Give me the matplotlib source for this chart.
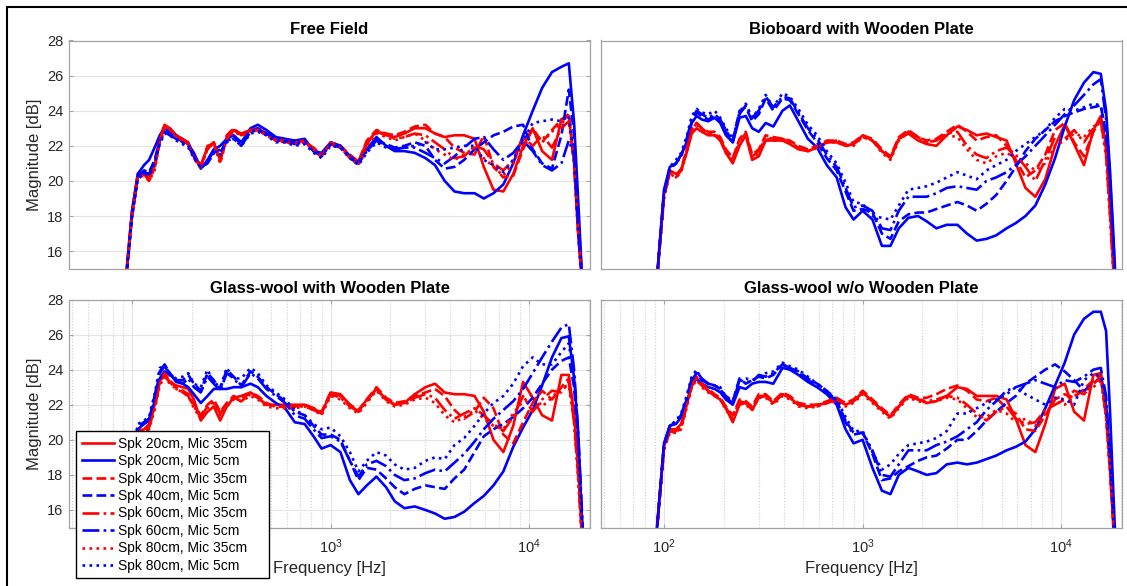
import numpy as np
import matplotlib.pyplot as plt
from matplotlib.patches import Rectangle
from matplotlib.ticker import LogLocator, NullFormatter, MultipleLocator, FixedFormatter

plt.rcParams['font.family'] = ['Liberation Sans', 'DejaVu Sans']
plt.rcParams['mathtext.fontset'] = 'custom'
plt.rcParams['mathtext.rm'] = 'Liberation Sans'
plt.rcParams['mathtext.it'] = 'Liberation Sans:italic'
plt.rcParams['mathtext.bf'] = 'Liberation Sans:bold'

# frequency grid shared by every curve (Hz)
freq = [90, 100, 107, 115, 122, 130, 138, 146, 155, 167, 180, 192, 205, 222, 240, 258, 278, 300,
        325, 355, 395, 430, 475, 530, 590, 660, 740, 820, 900, 1000, 1120, 1250, 1380, 1520,
        1700, 1900, 2100, 2350, 2650, 3000, 3350, 3750, 4200, 4700, 5300, 5900, 6600, 7400,
        8300, 9300, 10400, 11600, 13000, 14500, 15800, 16800, 17600, 18300, 19000]

# ---- Free Field
ff_r20 = [12.6, 18.2, 20.4, 20.5, 20.2, 20.9, 22.5, 23.2, 23.0, 22.6, 22.4, 22.2, 21.4, 20.9, 21.9, 22.2, 21.2, 22.5, 22.9, 22.7,
          22.9, 23.0, 22.7, 22.4, 22.3, 22.2, 22.3, 21.8, 21.5, 22.2,
          22.0, 21.4, 21.1, 22.2, 22.8, 22.6, 22.5, 22.7, 23.0, 23.0, 22.7, 22.5, 22.6, 22.6, 22.4, 20.8, 19.5, 19.4, 20.4, 22.0,
          23.0, 21.7, 21.2, 23.5, 23.7, 21.0, 17.0, 14.5, 12.0]
ff_b20 = [12.6, 18.3, 20.4, 20.9, 21.2, 21.9, 22.6, 23.0, 22.8, 22.6, 22.3, 22.1, 21.6, 20.7, 21.2, 21.8, 22.0, 22.4, 22.6, 22.2,
          23.0, 23.2, 22.9, 22.5, 22.4, 22.3, 22.4, 21.7, 21.6, 22.2,
          22.0, 21.4, 21.0, 21.8, 22.5, 22.0, 21.7, 21.7, 21.6, 21.3, 20.9, 20.0, 19.4, 19.3, 19.3, 19.0, 19.3, 19.8, 21.0, 22.6,
          24.0, 25.3, 26.2, 26.5, 26.7, 23.3, 19.0, 15.2, 12.0]
ff_r40 = [12.5, 18.1, 20.3, 20.4, 20.1, 20.8, 22.4, 23.1, 23.0, 22.6, 22.3, 22.1, 21.3, 20.8, 22.0, 22.1, 21.1, 22.6, 23.0, 22.6,
          22.9, 23.0, 22.6, 22.3, 22.2, 22.2, 22.3, 21.8, 21.4, 22.2,
          22.0, 21.5, 21.1, 22.3, 22.9, 22.7, 22.6, 22.8, 23.1, 23.2, 22.7, 22.5, 21.9, 21.6, 21.5, 22.6, 20.8, 20.2, 20.3, 21.8,
          23.0, 22.2, 22.9, 23.5, 23.8, 21.2, 17.5, 14.8, 12.0]
ff_b40 = [12.4, 18.0, 20.2, 20.6, 20.5, 21.2, 22.3, 22.8, 22.7, 22.5, 22.2, 22.0, 21.5, 20.8, 21.0, 21.6, 21.8, 22.3, 22.5, 22.1,
          22.8, 23.0, 22.7, 22.4, 22.3, 22.2, 22.3, 21.7, 21.5, 22.1,
          22.0, 21.4, 21.1, 21.8, 22.3, 22.1, 21.9, 22.0, 22.2, 22.0, 21.2, 20.7, 20.8, 21.2, 21.8, 22.2, 22.6, 22.8, 23.1, 23.2,
          21.8, 21.0, 20.7, 22.6, 25.2, 22.6, 18.0, 15.0, 12.0]
ff_r60 = [12.5, 18.1, 20.3, 20.4, 20.0, 20.7, 22.3, 23.1, 22.9, 22.6, 22.3, 22.1, 21.4, 20.8, 21.8, 22.2, 21.2, 22.4, 22.9, 22.6,
          22.8, 22.9, 22.6, 22.3, 22.3, 22.2, 22.2, 21.9, 21.5, 22.1,
          21.9, 21.3, 21.0, 22.1, 22.8, 22.7, 22.4, 22.5, 22.7, 22.6, 22.2, 21.8, 21.3, 21.4, 22.0, 21.8, 21.0, 20.6, 21.2, 22.5,
          22.0, 22.6, 21.9, 23.0, 23.4, 21.0, 17.2, 14.6, 12.0]
ff_b60 = [12.4, 18.0, 20.2, 20.5, 20.4, 21.0, 22.2, 22.8, 22.6, 22.4, 22.2, 22.0, 21.4, 20.7, 21.1, 21.7, 21.6, 22.3, 22.4, 22.0,
          22.8, 22.9, 22.7, 22.3, 22.3, 22.1, 22.2, 21.7, 21.4, 22.1,
          21.9, 21.3, 21.0, 21.7, 22.3, 22.0, 21.8, 21.9, 21.9, 21.6, 21.3, 21.0, 21.4, 21.9, 22.4, 22.5, 21.8, 21.2, 21.6, 22.3,
          21.7, 20.9, 20.6, 21.0, 22.3, 21.5, 17.5, 14.8, 12.0]
ff_r80 = [12.5, 18.0, 20.2, 20.3, 20.0, 20.6, 22.2, 23.0, 22.9, 22.5, 22.3, 22.1, 21.3, 20.7, 21.9, 22.1, 21.0, 22.4, 22.8, 22.6,
          22.8, 22.9, 22.6, 22.3, 22.2, 22.1, 22.2, 21.8, 21.4, 22.1,
          21.9, 21.3, 20.9, 22.0, 22.7, 22.5, 22.3, 22.5, 22.7, 22.3, 21.8, 21.5, 21.2, 21.5, 21.9, 21.3, 20.8, 20.3, 21.0, 22.3,
          22.9, 22.2, 22.8, 23.3, 23.6, 21.0, 17.0, 14.5, 12.0]
ff_b80 = [12.3, 17.9, 20.1, 20.4, 20.3, 21.0, 22.1, 22.7, 22.6, 22.3, 22.1, 21.9, 21.3, 20.8, 21.0, 21.6, 21.5, 22.2, 22.4, 22.0,
          22.7, 22.8, 22.6, 22.2, 22.2, 22.0, 22.1, 21.6, 21.3, 22.0,
          21.9, 21.3, 20.9, 21.6, 22.2, 21.9, 21.8, 21.9, 22.0, 22.2, 21.8, 21.8, 21.9, 22.0, 22.0, 21.2, 20.9, 20.5, 21.2, 22.3,
          23.3, 23.4, 23.5, 23.4, 23.7, 21.3, 17.2, 14.7, 12.0]

# ---- Bioboard with Wooden Plate
bb_r20 = [13.0, 19.2, 20.6, 20.4, 20.6, 21.6, 22.7, 23.0, 22.8, 22.6, 22.6, 22.3, 21.6, 21.0, 22.0, 22.6, 21.2, 21.4, 22.3, 22.3,
          22.3, 22.1, 21.8, 21.7, 21.9, 22.2, 22.2, 22.0, 22.1, 22.6,
          22.3, 21.7, 21.3, 22.4, 22.7, 22.3, 22.1, 22.0, 22.6, 23.1, 22.9, 22.6, 22.7, 22.5, 22.3, 21.0, 19.6, 19.1, 20.1, 22.0,
          23.2, 22.1, 20.9, 22.9, 23.7, 22.0, 18.5, 15.0, 12.5]
bb_b20 = [13.0, 19.5, 20.8, 21.0, 21.5, 22.2, 23.3, 23.7, 23.5, 23.4, 23.6, 23.3, 22.6, 22.2, 23.6, 23.7, 23.0, 22.8, 23.3, 23.1,
          24.0, 24.3, 23.4, 22.4, 21.9, 20.9, 20.2, 18.5, 17.8, 18.3,
          17.8, 16.3, 16.3, 17.3, 17.9, 18.0, 17.7, 17.3, 17.5, 17.5, 17.0, 16.6, 16.7, 16.9, 17.3, 17.6, 18.0, 18.6, 19.8, 21.3,
          23.1, 24.6, 25.6, 26.2, 26.1, 24.0, 20.5, 16.8, 13.0]
bb_r40 = [13.0, 19.1, 20.5, 20.3, 20.7, 21.8, 23.0, 23.3, 23.0, 22.8, 22.8, 22.5, 21.8, 21.3, 22.4, 22.8, 21.5, 21.8, 22.6, 22.5,
          22.4, 22.3, 22.0, 21.8, 22.0, 22.3, 22.3, 22.1, 22.2, 22.6,
          22.4, 21.8, 21.4, 22.5, 22.9, 22.5, 22.3, 22.4, 22.8, 23.2, 22.8, 22.3, 22.5, 22.6, 22.0, 21.2, 20.2, 20.6, 21.5, 22.9,
          23.3, 22.2, 21.4, 22.8, 23.5, 21.8, 18.3, 15.0, 12.5]
bb_b40 = [13.0, 19.3, 20.7, 21.0, 21.4, 22.3, 23.4, 23.9, 23.7, 23.5, 23.7, 23.4, 22.8, 22.3, 24.0, 24.2, 23.4, 23.8, 24.7, 24.0,
          24.7, 24.6, 23.8, 22.9, 22.2, 21.3, 20.6, 19.4, 18.3, 18.4,
          18.2, 17.0, 16.7, 17.7, 18.1, 18.2, 18.2, 18.4, 18.6, 18.8, 18.6, 18.3, 18.7, 19.2, 20.0, 20.8, 21.7, 22.4, 22.9, 23.4,
          23.7, 23.9, 24.1, 24.2, 24.3, 22.5, 19.5, 16.0, 12.5]
bb_r60 = [13.0, 19.1, 20.5, 20.2, 20.6, 21.7, 22.9, 23.3, 23.0, 22.7, 22.7, 22.4, 21.7, 21.2, 22.3, 22.7, 21.4, 21.7, 22.5, 22.4,
          22.4, 22.2, 21.9, 21.7, 21.9, 22.2, 22.3, 22.0, 22.1, 22.5,
          22.3, 21.7, 21.3, 22.4, 22.8, 22.5, 22.2, 22.3, 22.7, 22.8, 22.0, 21.5, 21.3, 21.7, 21.9, 21.5, 20.8, 20.0, 21.2, 22.5,
          22.4, 22.9, 22.2, 23.0, 23.4, 21.5, 18.0, 14.8, 12.5]
bb_b60 = [13.0, 19.3, 20.7, 21.0, 21.5, 22.4, 23.5, 24.0, 23.8, 23.6, 23.8, 23.5, 22.9, 22.2, 23.8, 24.3, 23.6, 24.0, 24.8, 24.2,
          24.8, 24.7, 23.9, 23.0, 22.4, 21.5, 20.8, 19.6, 18.5, 18.6,
          18.3, 17.3, 17.2, 18.3, 19.1, 19.1, 19.1, 19.3, 19.6, 19.7, 19.6, 19.5, 20.0, 20.2, 20.5, 20.9, 21.4, 22.0, 22.6, 23.2,
          23.8, 24.3, 24.9, 25.5, 25.8, 23.5, 20.0, 16.5, 12.5]
bb_r80 = [13.0, 19.0, 20.4, 20.2, 20.5, 21.6, 22.9, 23.2, 22.9, 22.7, 22.6, 22.3, 21.6, 21.1, 22.2, 22.6, 21.3, 21.6, 22.4, 22.3,
          22.3, 22.2, 21.9, 21.7, 21.9, 22.2, 22.2, 22.0, 22.0, 22.5,
          22.3, 21.6, 21.2, 22.3, 22.8, 22.4, 22.2, 22.3, 22.6, 22.5, 21.8, 21.2, 21.0, 21.4, 21.6, 21.3, 21.0, 20.6, 21.0, 22.0,
          22.3, 22.7, 22.5, 23.1, 23.3, 21.4, 17.8, 14.7, 12.5]
bb_b80 = [13.0, 19.2, 20.8, 21.2, 21.6, 22.5, 23.7, 24.1, 23.9, 23.8, 24.0, 23.6, 23.0, 22.4, 23.9, 24.4, 23.6, 24.1, 24.9, 24.2,
          25.0, 24.8, 24.1, 23.2, 22.6, 21.7, 21.0, 19.9, 18.8, 18.7,
          18.0, 17.9, 17.8, 18.6, 19.5, 19.6, 19.7, 19.9, 20.2, 20.5, 20.3, 20.1, 20.6, 20.9, 21.2, 21.7, 22.1, 22.5, 22.9, 23.6,
          24.1, 24.0, 24.2, 24.4, 24.3, 22.8, 19.8, 16.3, 12.5]

# ---- Glass-wool with Wooden Plate
gw_r20 = [13.0, 19.0, 20.5, 20.6, 20.9, 22.0, 23.4, 23.6, 23.3, 23.1, 23.0, 22.9, 22.3, 21.1, 21.6, 21.9, 21.1, 21.9, 22.4, 22.5,
          22.7, 22.4, 22.0, 22.0, 22.0, 22.0, 22.0, 21.8, 21.5, 22.7,
          22.6, 22.0, 21.6, 22.3, 22.9, 22.3, 22.0, 22.1, 22.6, 23.0, 23.2, 22.7, 22.6, 22.6, 22.5, 21.6, 20.0, 19.3, 20.8, 23.3,
          22.4, 21.4, 21.1, 23.7, 23.7, 21.5, 18.5, 15.0, 12.5]
gw_b20 = [13.0, 19.0, 20.6, 20.9, 21.1, 22.2, 23.5, 23.9, 23.7, 23.4, 23.2, 23.0, 22.6, 22.1, 22.5, 22.9, 22.9, 22.9, 23.0, 23.0,
          23.2, 23.0, 22.5, 22.1, 21.8, 21.0, 20.9, 20.2, 19.5, 19.7,
          19.3, 17.7, 16.9, 17.4, 17.9, 17.3, 16.5, 16.1, 16.2, 16.0, 15.8, 15.5, 15.6, 15.9, 16.4, 16.8, 17.4, 18.2, 19.6, 20.7,
          21.7, 23.1, 24.7, 25.8, 25.9, 23.5, 20.5, 16.0, 12.5]
gw_r40 = [13.0, 18.9, 20.4, 20.5, 20.8, 21.9, 23.3, 23.8, 23.4, 23.0, 22.8, 22.6, 22.0, 21.4, 22.0, 22.3, 21.6, 22.1, 22.5, 22.3,
          22.7, 22.5, 22.1, 21.9, 21.9, 21.9, 22.0, 21.8, 21.6, 22.7,
          22.5, 22.0, 21.7, 22.3, 23.0, 22.4, 22.1, 22.2, 22.5, 22.7, 22.9, 22.5, 21.7, 21.2, 21.6, 22.4, 21.8, 20.3, 19.8, 21.0,
          22.1, 22.8, 22.3, 23.0, 23.5, 21.2, 18.2, 15.0, 12.5]
gw_b40 = [13.0, 19.0, 20.7, 21.0, 21.2, 22.4, 23.8, 24.2, 23.8, 23.4, 23.4, 23.7, 23.2, 22.8, 23.8, 23.4, 22.9, 24.0, 23.6, 23.1,
          23.9, 23.6, 23.0, 22.6, 22.2, 21.6, 21.4, 20.8, 20.3, 20.3,
          20.0, 18.8, 17.7, 18.4, 18.3, 17.8, 17.3, 16.9, 17.2, 17.4, 17.3, 17.2, 17.8, 18.3, 19.3, 20.2, 20.6, 20.9, 21.3, 21.8,
          22.4, 23.2, 24.0, 24.5, 24.7, 23.0, 20.0, 16.0, 12.5]
gw_r60 = [13.0, 18.9, 20.4, 20.4, 20.7, 21.8, 23.2, 23.7, 23.3, 22.9, 22.7, 22.5, 21.9, 21.3, 21.9, 22.2, 21.5, 22.0, 22.4, 22.2,
          22.6, 22.4, 22.0, 21.9, 21.9, 21.9, 21.9, 21.7, 21.5, 22.6,
          22.4, 21.9, 21.6, 22.2, 22.9, 22.3, 22.0, 22.1, 22.4, 22.6, 22.4, 21.7, 21.2, 21.5, 21.8, 21.4, 20.9, 20.5, 21.3, 22.5,
          21.6, 22.3, 22.8, 22.7, 23.3, 21.0, 18.0, 14.8, 12.5]
gw_b60 = [13.0, 19.0, 20.8, 21.0, 21.2, 22.5, 23.9, 24.3, 23.8, 23.3, 23.2, 23.5, 23.0, 22.7, 23.6, 23.2, 22.8, 23.8, 23.5, 23.0,
          23.8, 23.5, 22.9, 22.5, 22.1, 21.4, 21.2, 20.6, 20.1, 20.2,
          19.9, 18.8, 17.9, 18.6, 18.8, 18.5, 18.0, 17.7, 17.8, 18.1, 18.3, 18.2, 18.7, 19.2, 19.9, 20.6, 21.2, 21.7, 22.2, 22.9,
          23.8, 24.7, 25.6, 26.4, 26.6, 24.0, 20.5, 16.5, 12.5]
gw_r80 = [13.0, 18.8, 20.3, 20.4, 20.6, 21.7, 23.1, 23.6, 23.2, 22.9, 22.7, 22.5, 21.8, 21.2, 21.8, 22.1, 21.4, 21.9, 22.3, 22.2,
          22.5, 22.3, 21.9, 21.8, 21.8, 21.8, 21.9, 21.7, 21.4, 22.5,
          22.3, 21.8, 21.5, 22.1, 22.8, 22.2, 21.9, 22.0, 22.3, 22.4, 22.1, 21.4, 21.0, 21.3, 21.7, 21.2, 20.8, 20.6, 21.5, 22.2,
          22.6, 21.9, 22.4, 23.0, 23.1, 21.0, 17.8, 14.8, 12.5]
gw_b80 = [13.0, 19.0, 20.9, 21.1, 21.3, 22.6, 24.1, 24.2, 23.7, 23.5, 23.6, 23.8, 23.2, 23.0, 24.0, 23.3, 23.0, 24.1, 23.5, 23.5,
          24.1, 23.8, 23.1, 22.7, 22.3, 21.7, 21.4, 20.9, 20.6, 20.7,
          20.2, 19.3, 18.2, 18.8, 19.3, 19.1, 18.6, 18.3, 18.4, 18.8, 19.0, 18.9, 19.7, 20.1, 20.8, 21.5, 22.1, 22.5, 23.2, 24.2,
          24.7, 24.3, 24.3, 25.0, 25.5, 23.5, 20.0, 16.0, 12.5]

# ---- Glass-wool w/o Wooden Plate
gn_r20 = [13.5, 19.6, 20.6, 20.6, 20.9, 22.0, 23.1, 23.5, 23.1, 22.8, 22.5, 22.3, 21.8, 21.0, 22.0, 22.1, 21.7, 22.4, 22.5, 22.1,
          22.6, 22.4, 22.0, 21.9, 22.0, 22.1, 22.3, 22.0, 22.2, 22.7,
          22.2, 21.7, 21.3, 21.9, 22.5, 22.3, 22.1, 22.2, 22.5, 23.0, 22.9, 22.5, 22.5, 22.5, 22.3, 21.2, 19.7, 19.3, 20.9, 22.9,
          23.2, 21.6, 21.1, 23.7, 23.8, 21.8, 18.5, 15.2, 12.5]
gn_b20 = [13.6, 19.8, 20.8, 20.9, 21.3, 22.1, 23.1, 23.5, 23.2, 23.0, 22.9, 22.7, 22.3, 22.0, 23.0, 22.9, 23.2, 23.3, 23.3, 23.2,
          24.1, 24.0, 23.7, 23.3, 23.0, 22.6, 22.0, 20.6, 19.8, 20.0,
          18.4, 17.1, 16.9, 18.0, 18.4, 18.2, 18.0, 18.1, 18.6, 18.7, 18.6, 18.7, 18.9, 19.1, 19.4, 19.6, 19.9, 20.6, 21.8, 23.1,
          24.4, 26.0, 26.9, 27.3, 27.3, 26.2, 21.5, 16.8, 12.5]
gn_r40 = [13.5, 19.5, 20.5, 20.5, 20.8, 22.0, 23.2, 23.6, 23.2, 22.9, 22.6, 22.4, 21.9, 21.4, 22.3, 22.2, 21.9, 22.6, 22.6, 22.2,
          22.7, 22.5, 22.1, 22.0, 22.0, 22.2, 22.4, 22.1, 22.3, 22.8,
          22.3, 21.8, 21.4, 22.0, 22.6, 22.4, 22.4, 22.6, 22.9, 23.1, 22.8, 22.3, 22.2, 22.4, 21.8, 21.5, 20.6, 20.5, 21.4, 22.3,
          22.6, 22.4, 22.9, 23.4, 23.8, 21.5, 18.3, 15.0, 12.5]
gn_b40 = [13.5, 19.7, 20.8, 21.0, 21.4, 22.3, 23.4, 23.8, 23.4, 23.2, 23.1, 22.9, 22.5, 22.2, 23.5, 23.2, 23.4, 23.6, 23.5, 23.7,
          24.3, 24.1, 23.9, 23.5, 23.2, 22.8, 22.2, 21.1, 20.4, 20.4,
          19.2, 17.7, 17.8, 18.2, 18.5, 18.8, 19.0, 19.1, 19.5, 20.0, 20.0, 20.5, 21.1, 21.6, 22.1, 22.5, 23.2, 23.6, 24.0, 24.3,
          23.9, 23.4, 22.8, 23.2, 23.6, 22.0, 19.0, 15.5, 12.5]
gn_r60 = [13.5, 19.5, 20.5, 20.4, 20.7, 21.9, 23.1, 23.5, 23.1, 22.8, 22.5, 22.3, 21.8, 21.3, 22.2, 22.1, 21.8, 22.5, 22.5, 22.1,
          22.6, 22.4, 22.0, 21.9, 21.9, 22.1, 22.3, 22.0, 22.2, 22.7,
          22.2, 21.7, 21.3, 21.9, 22.5, 22.3, 22.2, 22.3, 22.5, 22.4, 22.0, 21.5, 21.1, 21.6, 21.9, 21.2, 20.9, 21.0, 21.7, 22.0,
          22.3, 22.8, 22.6, 23.2, 23.6, 21.3, 18.2, 15.0, 12.5]
gn_b60 = [13.5, 19.7, 20.8, 21.0, 21.4, 22.4, 23.5, 23.9, 23.5, 23.2, 23.1, 22.9, 22.4, 22.1, 23.4, 23.3, 23.3, 23.7, 23.6, 23.8,
          24.3, 24.1, 23.8, 23.4, 23.1, 22.7, 22.2, 21.0, 20.3, 20.4,
          19.4, 18.0, 17.9, 18.6, 19.4, 19.4, 19.4, 19.7, 19.9, 20.2, 20.6, 21.0, 21.7, 22.2, 22.8, 23.0, 23.2, 23.4, 23.2, 23.0,
          23.4, 23.3, 23.6, 24.0, 24.1, 22.5, 19.0, 15.5, 12.5]
gn_r80 = [13.5, 19.4, 20.4, 20.4, 20.6, 21.8, 23.0, 23.4, 23.0, 22.7, 22.5, 22.3, 21.7, 21.2, 22.1, 22.0, 21.7, 22.4, 22.4, 22.0,
          22.5, 22.3, 21.9, 21.8, 21.9, 22.1, 22.2, 21.9, 22.1, 22.6,
          22.1, 21.6, 21.2, 21.8, 22.4, 22.2, 22.1, 22.2, 22.4, 22.3, 21.8, 21.3, 21.3, 21.7, 21.5, 21.0, 21.2, 20.8, 21.5, 22.2,
          22.0, 22.5, 22.8, 23.0, 23.4, 21.2, 18.0, 14.9, 12.5]
gn_b80 = [13.5, 19.6, 20.8, 21.1, 21.5, 22.5, 23.6, 24.0, 23.4, 23.2, 23.1, 23.0, 22.4, 22.2, 23.4, 23.5, 23.4, 23.6, 23.8, 23.9,
          24.4, 24.2, 24.0, 23.6, 23.2, 22.8, 22.3, 21.3, 20.5, 20.5,
          19.3, 18.3, 18.6, 19.2, 19.7, 19.8, 19.9, 20.1, 20.5, 21.5, 21.5, 21.8, 22.1, 22.3, 22.6, 23.0, 22.6, 22.3, 22.0, 22.4,
          22.3, 22.0, 23.4, 23.8, 23.6, 22.0, 18.8, 15.3, 12.5]

titles = ["Free Field", "Bioboard with Wooden Plate",
          "Glass-wool with Wooden Plate", "Glass-wool w/o Wooden Plate"]
labels = ["Spk 20cm, Mic 35cm", "Spk 20cm, Mic 5cm", "Spk 40cm, Mic 35cm", "Spk 40cm, Mic 5cm",
          "Spk 60cm, Mic 35cm", "Spk 60cm, Mic 5cm", "Spk 80cm, Mic 35cm", "Spk 80cm, Mic 5cm"]
colors = ['red', 'blue'] * 4
lstyles = ['-', '-', '--', '--', '-.', '-.', ':', ':']

panels = [
    [ff_r20, ff_b20, ff_r40, ff_b40, ff_r60, ff_b60, ff_r80, ff_b80],
    [bb_r20, bb_b20, bb_r40, bb_b40, bb_r60, bb_b60, bb_r80, bb_b80],
    [gw_r20, gw_b20, gw_r40, gw_b40, gw_r60, gw_b60, gw_r80, gw_b80],
    [gn_r20, gn_b20, gn_r40, gn_b40, gn_r60, gn_b60, gn_r80, gn_b80],
]

W, H = 1127, 586
fig = plt.figure(figsize=(W / 100, H / 100), dpi=100)

# axes boxes in pixels: left, top, right, bottom
boxes = [(69, 40.5, 590, 268.7), (601, 40.5, 1122, 268.7),
         (69, 299.5, 590, 527.5), (601, 299.5, 1122, 527.5)]

spine_col = '#a3a3a3'
txt_col = '#262626'
axes = []
for i, (l, t, r, b) in enumerate(boxes):
    ax = fig.add_axes([l / W, 1 - b / H, (r - l) / W, (b - t) / H])
    for k, y in enumerate(panels[i]):
        ax.plot(freq, y, color=colors[k], ls=lstyles[k], lw=1.9, label=labels[k])
    ax.set_xscale('log')
    ax.set_xlim(48.2, 20200)
    ax.set_ylim(15, 28)
    ax.yaxis.set_major_locator(MultipleLocator(2))
    ax.xaxis.set_major_locator(LogLocator(base=10))
    ax.xaxis.set_minor_locator(LogLocator(base=10, subs=np.arange(2, 10)))
    ax.xaxis.set_minor_formatter(NullFormatter())
    for s in ax.spines.values():
        s.set_color(spine_col)
        s.set_linewidth(0.9)
    ax.tick_params(which='both', direction='in', colors=spine_col, labelcolor=txt_col,
                   labelsize=10.5, top=True, right=True, length=3, pad=4)
    ax.tick_params(axis='x', pad=7)
    ax.tick_params(which='minor', length=0)
    ax.set_title(titles[i], fontsize=12, fontweight='bold', pad=4.5, color='black')
    if i < 2:
        ax.tick_params(axis='x', which='both', labelbottom=False, length=0)
    else:
        ax.set_xlabel("Frequency [Hz]", fontsize=12, color=txt_col, labelpad=4)
    if i % 2 == 0:
        ax.set_ylabel("Magnitude [dB]", fontsize=12, color=txt_col, labelpad=4)
    else:
        ax.tick_params(axis='y', labelleft=False, length=0)
    axes.append(ax)

# the 10^2 label of the lower-left panel sits under the legend
axes[2].set_xticks([1e2, 1e3, 1e4])
axes[2].xaxis.set_major_formatter(FixedFormatter(['', r'$\mathdefault{10^{3}}$', r'$\mathdefault{10^{4}}$']))

grid_kw = dict(color='#e4e4e4', lw=0.8)
axes[0].grid(True, axis='y', **grid_kw)
axes[2].grid(True, axis='y', **grid_kw)
for ax in axes[2:]:
    ax.grid(True, axis='x', which='major', **grid_kw)
    ax.grid(True, axis='x', which='minor', color='#cfcfcf', lw=0.8, ls=':')
for ax in axes:
    ax.set_axisbelow(True)

leg = axes[2].legend(loc='upper left',
                     bbox_to_anchor=(76 / W, 1 - 577 / H, (269 - 76) / W, (577 - 431) / H),
                     mode='expand', bbox_transform=fig.transFigure, fontsize=10, frameon=True,
                     fancybox=False, framealpha=1, edgecolor='black', borderaxespad=0,
                     borderpad=0.4, handlelength=2.35, handletextpad=0.3, labelspacing=0.25)
leg.get_frame().set_linewidth(1.0)
leg.set_zorder(10)

# outer frame of the figure window
fig.add_artist(Rectangle((7 / W, -0.05), 1.2, (H - 7) / H + 0.05, fill=False,
                         edgecolor='black', lw=1.5, transform=fig.transFigure))

fig.savefig("out.png", dpi=100)
